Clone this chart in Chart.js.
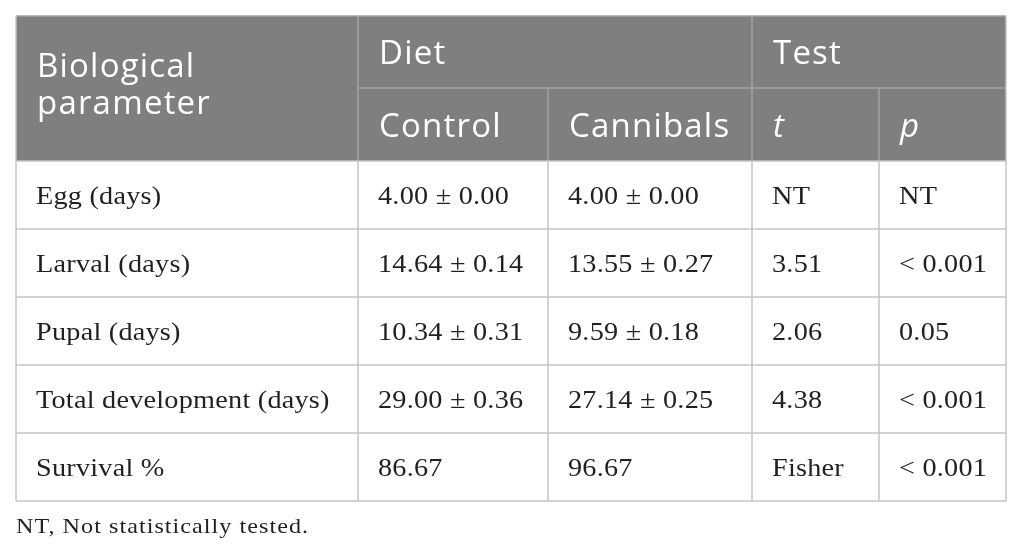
<!DOCTYPE html>
<html>
<head>
<meta charset="utf-8">
<style>
  html, body { margin: 0; padding: 0; background: #ffffff; }
  #wrap { width: 1026px; height: 558px; position: relative; }
</style>
</head>
<body>
<div id="wrap"><canvas id="table"></canvas></div>
<script src="https://cdn.jsdelivr.net/npm/chart.js@4.4.1/dist/chart.umd.min.js"></script>
<script>
// table contents
var parameters = ['Egg (days)', 'Larval (days)', 'Pupal (days)', 'Total development (days)', 'Survival %'];
var controlMean = [4.00, 14.64, 10.34, 29.00, 86.67];
var controlSE = [0.00, 0.14, 0.31, 0.36, null];
var cannibalsMean = [4.00, 13.55, 9.59, 27.14, 96.67];
var cannibalsSE = [0.00, 0.27, 0.18, 0.25, null];
var tValues = ['NT', '3.51', '2.06', '4.38', 'Fisher'];
var pValues = ['NT', '< 0.001', '0.05', '< 0.001', '< 0.001'];
var groupHeaders = ['Diet', 'Test'];
var subHeaders = ['Control', 'Cannibals', 't', 'p'];
var firstHeader = ['Biological', 'parameter'];
var footnote = 'NT, Not statistically tested.';

// layout (in scale units, the scales run 0..1026 and 0..558)
var colEdges = [16, 358, 548, 752, 879, 1006];
var rowEdges = [16, 88, 161, 229, 297, 365, 433, 501];
var headBg = '#7f7f7f';
var headLine = '#a3a3a3';
var bodyLine = '#c4c4c4';
var headFont = '33px "Open Sans"';
var bodyFont = '25px "Liberation Serif"';
var pad = 21;

function fmt(mean, se) {
    if (se === null) return mean.toFixed(2);
    return mean.toFixed(2) + ' \u00b1 ' + se.toFixed(2);
}

var tablePlugin = {
    id: 'tablePlugin',
    afterDraw: function (chart) {
        var ctx = chart.ctx;
        var xs = chart.scales.x, ys = chart.scales.y;
        var X = function (v) { return xs.getPixelForValue(v); };
        var Y = function (v) { return ys.getPixelForValue(v); };
        ctx.save();

        // header background
        ctx.fillStyle = headBg;
        ctx.fillRect(X(colEdges[0]), Y(rowEdges[0]), X(colEdges[5]) - X(colEdges[0]), Y(rowEdges[2]) - Y(rowEdges[0]));

        function line(x1, y1, x2, y2, color) {
            ctx.strokeStyle = color;
            ctx.lineWidth = 1.5;
            ctx.beginPath();
            ctx.moveTo(X(x1), Y(y1));
            ctx.lineTo(X(x2), Y(y2));
            ctx.stroke();
        }

        // header lines
        line(colEdges[1], rowEdges[0], colEdges[1], rowEdges[2], headLine);
        line(colEdges[3], rowEdges[0], colEdges[3], rowEdges[2], headLine);
        line(colEdges[2], rowEdges[1], colEdges[2], rowEdges[2], headLine);
        line(colEdges[4], rowEdges[1], colEdges[4], rowEdges[2], headLine);
        line(colEdges[1], rowEdges[1], colEdges[5], rowEdges[1], headLine);
        line(colEdges[0], rowEdges[0], colEdges[5], rowEdges[0], headLine);

        // body grid
        for (var r = 2; r < rowEdges.length; r++) {
            line(colEdges[0], rowEdges[r], colEdges[5], rowEdges[r], bodyLine);
        }
        for (var c = 0; c < colEdges.length; c++) {
            var top = (c === 0 || c === 5) ? rowEdges[0] : rowEdges[2];
            line(colEdges[c], top, colEdges[c], rowEdges[rowEdges.length - 1], bodyLine);
        }

        // text, stretched a little to look like the wide serif of the original
        function text(str, x, y, font, color, spacing, stretch) {
            ctx.save();
            ctx.font = font;
            ctx.fillStyle = color;
            ctx.letterSpacing = spacing || '0px';
            ctx.textBaseline = 'alphabetic';
            ctx.textAlign = 'left';
            ctx.translate(X(x), Y(y));
            ctx.scale(stretch || 1, 1);
            ctx.fillText(str, 0, 0);
            ctx.restore();
        }

        // header text
        text(firstHeader[0], colEdges[0] + pad, 77, headFont, '#ffffff', '1.2px');
        text(firstHeader[1], colEdges[0] + pad, 114, headFont, '#ffffff', '1.2px');
        text(groupHeaders[0], colEdges[1] + pad, 64, headFont, '#ffffff', '1.2px');
        text(groupHeaders[1], colEdges[3] + pad, 64, headFont, '#ffffff', '1.2px');
        for (var s = 0; s < subHeaders.length; s++) {
            var f = s >= 2 ? 'italic ' + headFont : headFont;
            text(subHeaders[s], colEdges[s + 1] + pad, 137, f, '#ffffff', '1.2px');
        }

        // body text
        for (var i = 0; i < parameters.length; i++) {
            var base = (rowEdges[i + 2] + rowEdges[i + 3]) / 2 + 9;
            var cells = [parameters[i], fmt(controlMean[i], controlSE[i]), fmt(cannibalsMean[i], cannibalsSE[i]), tValues[i], pValues[i]];
            for (var k = 0; k < cells.length; k++) {
                text(cells[k], colEdges[k] + pad - 1, base, bodyFont, '#231f20', '0.2px', 1.13);
            }
        }

        // footnote
        text(footnote, colEdges[0], 533, '21px "Liberation Serif"', '#231f20', '0.9px', 1.15);
        ctx.restore();
    }
};

var ctx = document.getElementById('table').getContext('2d');
new Chart(ctx, {
    type: 'scatter',
    data: { datasets: [{ data: [] }] },
    options: {
        responsive: true,
        maintainAspectRatio: false,
        animation: false,
        layout: { padding: 0 },
        plugins: { legend: { display: false }, tooltip: { enabled: false } },
        scales: {
            x: { type: 'linear', min: 0, max: 1026, display: false },
            y: { type: 'linear', min: 0, max: 558, reverse: true, display: false }
        }
    },
    plugins: [tablePlugin]
});
</script>
</body>
</html>
